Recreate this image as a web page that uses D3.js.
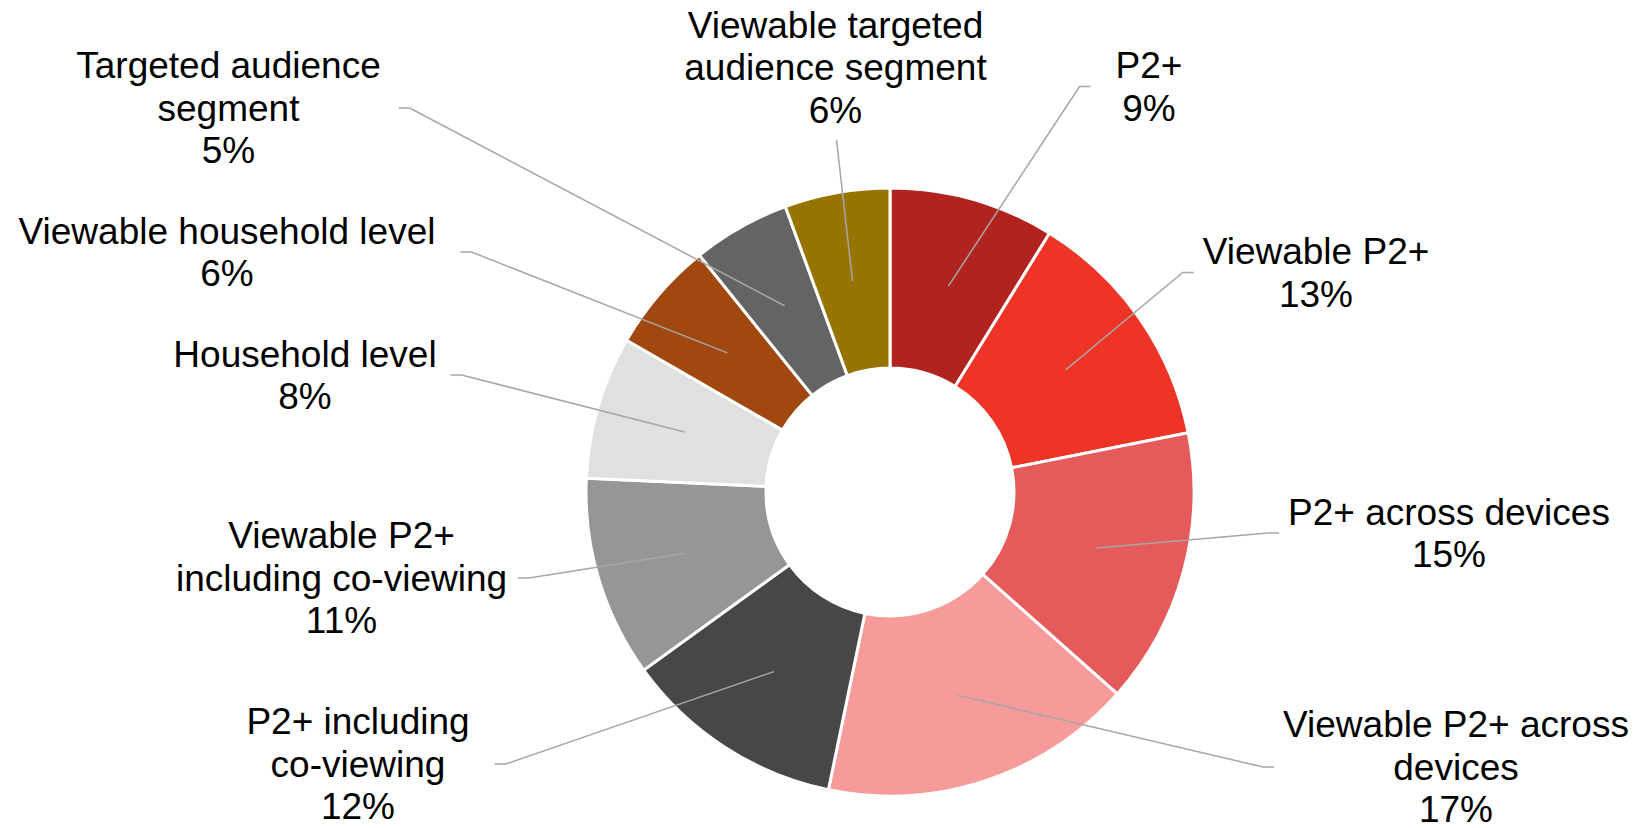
<!DOCTYPE html>
<html>
<head>
<meta charset="utf-8">
<script src="https://cdn.jsdelivr.net/npm/d3@7"></script>
<style>
  body { margin: 0; background: #fff; }
  text { font-family: "Liberation Sans", Arial, sans-serif; fill: #000; }
</style>
</head>
<body>
<div id="donut"></div>
<script>
// slice names (line breaks as in the chart labels), clockwise from 12 o'clock
var categories = [
  "P2+",
  "Viewable P2+",
  "P2+ across devices",
  "Viewable P2+ across\ndevices",
  "P2+ including\nco-viewing",
  "Viewable P2+\nincluding co-viewing",
  "Household level",
  "Viewable household level",
  "Targeted audience\nsegment",
  "Viewable targeted\naudience segment"
];
// shares (percent)
var values = [8.8, 13.1, 14.7, 16.7, 11.8, 10.7, 7.6, 5.9, 5.2, 5.6];
var colors = ["#B0231E", "#EE3427", "#E55A5A", "#F69A9A", "#474747",
              "#969696", "#E0E0DF", "#A0480F", "#646464", "#977300"];

// label box placement: [center x, center y, side the leader attaches, gap]
var labelLayout = [
  [1149, 86.5, "l", 25],
  [1316, 272.5, "l", 9],
  [1449, 533, "l", 9],
  [1456, 767, "l", 9],
  [358, 764, "r", 25],
  [341.5, 578, "r", 11],
  [305, 375, "r", 14],
  [227, 252, "r", 25],
  [228.5, 108, "r", 18],
  [835.5, 67.5, "b", 9]
];

var width = 1637, height = 828,
    cx = 890, cy = 492,
    outerR = 304, innerR = 124,
    lineH = 42.5, stub = 11;

var svg = d3.select("#donut").append("svg")
    .attr("width", width)
    .attr("height", height);

var total = d3.sum(values);
var data = categories.map(function(c, i) { return { name: c, value: values[i], i: i }; });

var pie = d3.pie().sort(null).value(function(d) { return d.value; });
var arc = d3.arc().innerRadius(innerR).outerRadius(outerR);
var arcs = pie(data);

var g = svg.append("g").attr("transform", "translate(" + cx + "," + cy + ")");

g.selectAll("path.slice")
  .data(arcs)
  .enter().append("path")
  .attr("class", "slice")
  .attr("d", arc)
  .attr("fill", function(d) { return colors[d.data.i]; })
  .attr("stroke", "#fff")
  .attr("stroke-width", 3);

// labels
var labels = svg.selectAll("text.lbl")
  .data(arcs)
  .enter().append("text")
  .attr("class", "lbl")
  .attr("text-anchor", "middle")
  .style("font-size", "37px");

labels.each(function(d) {
  var lay = labelLayout[d.data.i];
  var lines = d.data.name.split("\n").concat([Math.round(d.data.value / total * 100) + "%"]);
  var n = lines.length;
  var t = d3.select(this);
  lines.forEach(function(s, k) {
    t.append("tspan")
      .attr("x", lay[0])
      .attr("y", lay[1] + (k - (n - 1) / 2) * lineH)
      .attr("dy", "0.35em")
      .text(s);
  });
});

// leader lines from slice centroid to the label box
var leader = svg.insert("g", "text.lbl");
labels.each(function(d) {
  var lay = labelLayout[d.data.i];
  var bb = this.getBBox();
  var c = arc.centroid(d);
  var p0 = [cx + c[0], cy + c[1]], pts;
  if (lay[2] === "l") {
    var ex = bb.x - lay[3];
    pts = [p0, [ex - stub, lay[1]], [ex, lay[1]]];
  } else if (lay[2] === "r") {
    var ex2 = bb.x + bb.width + lay[3];
    pts = [p0, [ex2 + stub, lay[1]], [ex2, lay[1]]];
  } else {
    pts = [p0, [lay[0] + 1, bb.y + bb.height + lay[3]]];
  }
  leader.append("path")
    .attr("d", d3.line()(pts))
    .attr("fill", "none")
    .attr("stroke", "#A6A6A6")
    .attr("stroke-width", 1.5);
});
</script>
</body>
</html>
